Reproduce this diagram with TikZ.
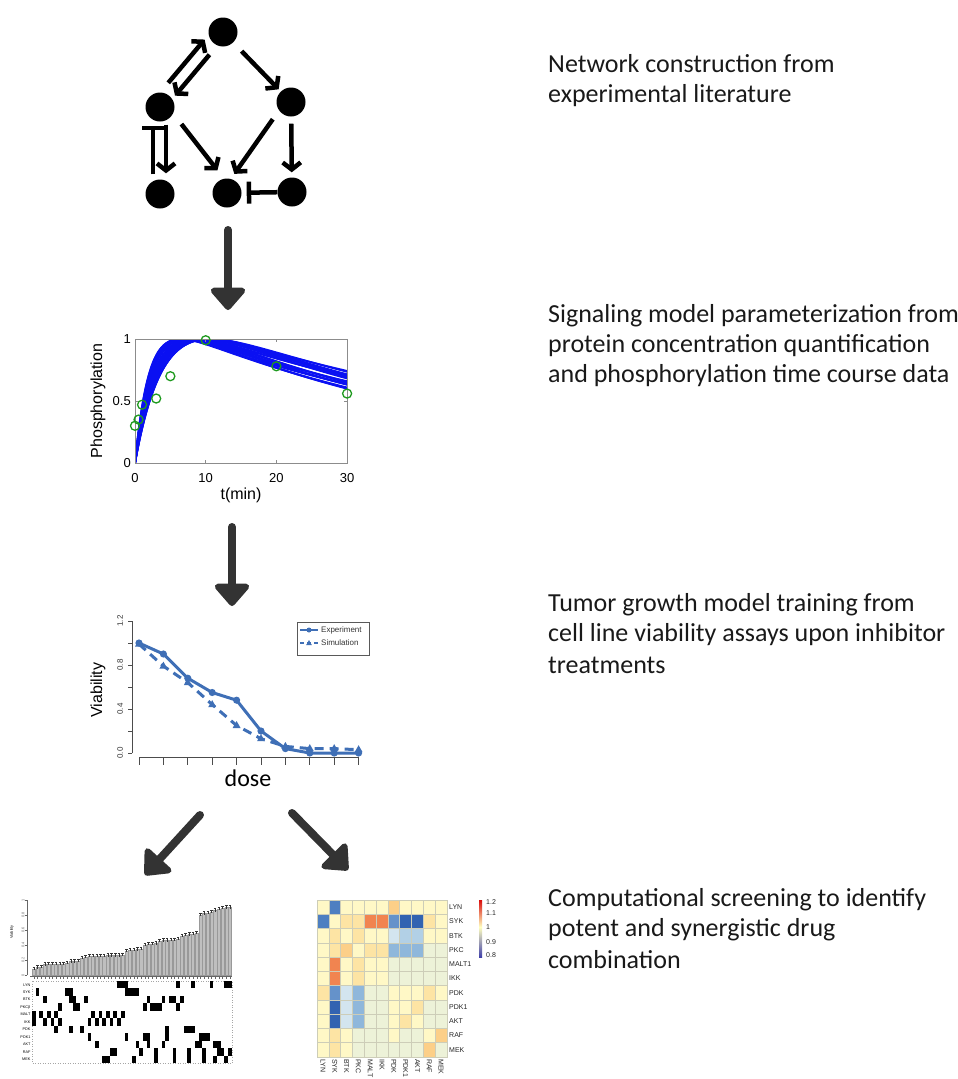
\documentclass[tikz,border=0pt]{standalone}
\usepackage{fontspec}
\setmainfont{Carlito}
\newfontfamily\plotfont{Liberation Sans}
\usetikzlibrary{arrows.meta}

\definecolor{flowgrey}{HTML}{333333}
\definecolor{fitblue}{HTML}{0A10F2}
\definecolor{datagreen}{HTML}{1F9A1F}
\definecolor{viablue}{HTML}{3F6FB6}
\definecolor{hY}{HTML}{FFF8C6}
\definecolor{hG}{HTML}{EDF2D8}
\definecolor{hO0}{HTML}{FDE4A4}
\definecolor{hO1}{HTML}{FCCF88}
\definecolor{hR}{HTML}{F18450}
\definecolor{hL1}{HTML}{D3E5EF}
\definecolor{hL2}{HTML}{B2D0E6}
\definecolor{hL3}{HTML}{8FB7DB}
\definecolor{hB1}{HTML}{6592CA}
\definecolor{hB2}{HTML}{4E7FC1}
\definecolor{hB3}{HTML}{3263B1}
\definecolor{hgrid}{HTML}{CDCDB8}

\begin{document}
\begin{tikzpicture}[x=1pt,y=-1pt,
		protein/.style={circle,fill=black,minimum size=29pt,inner sep=0pt},
		act/.style={line width=4.5pt,-{Straight Barb[length=7pt,width=18pt]}},
		inh/.style={line width=4.5pt,-{Bar[width=22pt]}},
		flow/.style={flowgrey,line width=8pt,line cap=round,-{Triangle[length=24pt,width=40pt,round]}},
		caption/.style={anchor=base west,inner sep=0pt,align=left,text=black!90,font=\fontsize{26}{30}\selectfont},
		axlabel/.style={font=\plotfont\fontsize{16}{18}\selectfont,inner sep=0pt},
		ticklabel/.style={font=\plotfont\fontsize{13}{15}\selectfont,inner sep=0pt},
		vtick/.style={font=\plotfont\fontsize{8}{9}\selectfont,inner sep=0pt,text=black!80},
		legendtext/.style={font=\plotfont\fontsize{8}{9}\selectfont,inner sep=0pt,anchor=west,text=black!80},
		tiny/.style={font=\plotfont\fontsize{3.8}{4}\selectfont,inner sep=0.4pt},
		hlabel/.style={font=\plotfont\fontsize{7}{8}\selectfont,inner sep=1pt,text=black!85}
	]
	\useasboundingbox (0,0) rectangle (958,1079);

	% network
	\node[protein] (top) at (223,32) {};
	\node[protein] (ml) at (160,107) {};
	\node[protein] (mr) at (291,102) {};
	\node[protein] (bl) at (160,194) {};
	\node[protein] (bm) at (227,193) {};
	\node[protein] (br) at (292,192) {};
	\draw[act,shorten <=9pt,shorten >=3pt,transform canvas={shift={(-7pt,6pt)}}] (ml) -- (top);
	\draw[act,shorten <=11pt,shorten >=4pt,transform canvas={shift={(3pt,-3pt)}}] (top) -- (ml);
	\draw[act,shorten <=12pt,shorten >=3pt] (top) -- (mr);
	\draw[act,shorten <=12pt,shorten >=9pt,transform canvas={shift={(5pt,4pt)}}] (ml) -- (bm);
	\draw[act,shorten <=10pt,shorten >=5pt,transform canvas={shift={(-4pt,3pt)}}] (mr) -- (bm);
	\draw[act,shorten <=7pt,shorten >=5pt] (mr) -- (br);
	\draw[act,shorten <=3pt,shorten >=6pt,transform canvas={shift={(6pt,0pt)}}] (ml) -- (bl);
	\draw[inh,shorten <=5pt,shorten >=4pt,transform canvas={shift={(-7pt,0pt)}}] (bl) -- (ml);
	\draw[inh,shorten >=5pt] (br) -- (bm);

	% flow arrows
	\coordinate (f1s) at (228,230);
	\coordinate (f1e) at (228,310);
	\coordinate (f2s) at (232,527);
	\coordinate (f2e) at (232,606);
	\coordinate (f3s) at (200,815);
	\coordinate (f3e) at (145,875);
	\coordinate (f4s) at (292,813);
	\coordinate (f4e) at (348,870);
	\draw[flow] (f1s) -- (f1e);
	\draw[flow] (f2s) -- (f2e);
	\draw[flow] (f3s) -- (f3e);
	\draw[flow] (f4s) -- (f4e);

	% phosphorylation fit
	\begin{scope}[shift={(135,463)},x=7.07pt,y=124pt]
		\begin{scope}
			\clip (0,-0.02) rectangle (30,1);
			\foreach \ka/\kb in {0.22/0.024,0.25/0.022,0.28/0.018,0.3/0.024,0.33/0.02,0.35/0.022,
					0.4/0.025,0.45/0.02,0.27/0.021,0.38/0.023,0.24/0.02,0.42/0.022,0.5/0.021,0.31/0.019,
					0.26/0.023,0.29/0.02,0.34/0.024,0.36/0.019,0.44/0.024,0.48/0.023,0.23/0.022}
				\draw[fitblue,line width=1.8pt] plot[domain=0:30,samples=90,smooth]
					(\x,{(1-exp(-\ka*\x))*exp(-\kb*\x)/((\ka/(\ka+\kb))*exp(-\kb*ln((\ka+\kb)/\kb)/\ka))});
		\end{scope}
		\draw[black!45,line width=0.8pt] (0,0) rectangle (30,1);
		\foreach \t in {0,10,20,30}
			\draw[black!45,line width=0.6pt] (\t,0) -- ++(0,3pt) (\t,1) -- ++(0,-3pt);
		\foreach \v in {0,0.5,1}
			\draw[black!45,line width=0.6pt] (0,\v) -- ++(3pt,0) (30,\v) -- ++(-3pt,0);
		\foreach \t/\v in {0/0.30,0.5/0.35,1/0.47,3/0.52,5/0.70,10/0.99,20/0.78,30/0.56}
			\draw[datagreen,line width=1.3pt] (\t,\v) circle[radius=4.5pt];
	\end{scope}
	\foreach \t in {0,10,20,30}
		\node[ticklabel] (xt\t) at ({135+7.07*\t},478) {\t};
	\foreach \v/\lab [count=\i] in {0/0,0.5/0.5,1/1}
		\node[ticklabel,anchor=east] (yt\i) at (131,{463-124*\v}) {\lab};
	\node[axlabel,rotate=90] (phos) at (98,401) {Phosphorylation};
	\node[axlabel] (tmin) at (241,495) {t(min)};

	% viability curves
	\draw[black!70,line width=0.8pt] (132,753) -- (132,621);
	\foreach \v in {0,0.2,0.4,0.6,0.8,1.0,1.2}
		\draw[black!70,line width=0.8pt] (132,{753-110*\v}) -- ++(-4,0);
	\foreach \v/\lab [count=\i] in {0/0.0,0.4/0.4,0.8/0.8,1.2/1.2}
		\node[vtick,rotate=90] (vy\i) at (120,{753-110*\v}) {\lab};
	\draw[black!70,line width=0.8pt] (139,757) -- (359,757);
	\foreach \i in {0,...,9}
		\draw[black!70,line width=0.8pt] ({139+24.4*\i},757) -- ++(0,8);
	\begin{scope}[shift={(139,753)},x=24.4pt,y=110pt]
		\draw[viablue,line width=3pt,line join=round] plot coordinates
			{(0,1.0) (1,0.90) (2,0.68) (3,0.55) (4,0.48) (5,0.20) (6,0.04) (7,0.0) (8,0.0) (9,0.0)};
		\draw[viablue,line width=3pt,dash pattern=on 9pt off 6pt] plot coordinates
			{(0,0.99) (1,0.79) (2,0.64) (3,0.44) (4,0.25) (5,0.13) (6,0.06) (7,0.04) (8,0.04) (9,0.03)};
		\foreach \v [count=\i from 0] in {1.0,0.90,0.68,0.55,0.48,0.20,0.04,0.0,0.0,0.0}
			\fill[viablue] (\i,\v) circle[radius=3.6pt];
		\foreach \v [count=\i from 0] in {0.99,0.79,0.64,0.44,0.25,0.13,0.06,0.04,0.04,0.03}
			\fill[viablue] (\i,\v) ++(0pt,4.5pt) -- ++(-4pt,-7pt) -- ++(8pt,0pt) -- cycle;
	\end{scope}
	\draw[black!65,line width=0.7pt] (297,622) rectangle (369,655);
	\draw[viablue,line width=1.5pt] (300,630) -- (318,630);
	\fill[viablue] (309,630) circle[radius=2.5pt];
	\draw[viablue,line width=1.5pt,dash pattern=on 4pt off 3pt] (300,643) -- (318,643);
	\fill[viablue] (309,643) ++(0pt,3pt) -- ++(-2.8pt,-5pt) -- ++(5.6pt,0pt) -- cycle;
	\node[legendtext] (lexp) at (321,630) {Experiment};
	\node[legendtext] (lsim) at (321,643) {Simulation};
	\node[axlabel,rotate=90] (via) at (98,690) {Viability};
	\node[font=\fontsize{24}{26}\selectfont,inner sep=0pt] (dose) at (248,778) {dose};

	% screening bars
	\draw[black!60,line width=0.4pt] (27,975) -- (27,900);
	\foreach \v/\lab [count=\i] in {0/0,0.2/0.2,0.4/0.4,0.6/0.6,0.8/0.8,1/1}
		\draw[black!60,line width=0.4pt] (27,{975-75*\v}) -- ++(-2,0)
			node[tiny,rotate=90,anchor=south] (bt\i) {\lab};
	\node[tiny,rotate=90] (bvia) at (12,932) {Viability};
	\foreach \h [count=\i from 0] in {0.08,0.10,0.11,0.14,0.15,0.15,0.15,0.15,0.15,0.16,
			0.18,0.18,0.19,0.23,0.24,0.25,0.25,0.25,0.25,0.25,0.26,0.26,0.26,0.26,0.27,
			0.32,0.33,0.33,0.34,0.35,0.40,0.41,0.41,0.42,0.45,0.46,0.46,0.47,0.47,0.48,
			0.52,0.53,0.54,0.55,0.56,0.80,0.82,0.83,0.84,0.86,0.88,0.89,0.90,0.90} {
		\filldraw[fill=black!25,draw=black!40,line width=0.3pt]
			({32.3+3.7*\i},975) rectangle ++(3.1,{-75*\h});
		\draw[black!80,line width=0.4pt] ({32.6+3.7*\i},{973-75*\h}) -- ++(2.5,0)
			({33.85+3.7*\i},{973-75*\h}) -- ++(0,3);
		\draw[black!60,line width=0.3pt] ({33.85+3.7*\i},976) -- ++(0,2.5);
	}
	\draw[black!60,line width=0.4pt] (30,976) -- (232,976);

	% drug combinations
	\draw[black!35,dotted,line width=0.5pt] (32,981) rectangle (232,1063);
	\foreach \r/\cols in {0/{23,24,25,39,43,48,52,53},1/{1,9,10,25,26,27,28},
			2/{3,10,11,14,31,35,37,38,40},3/{7,11,12,30,32,33,34,39},
			4/{0,2,4,6,16,18,20,22,24},5/{0,3,5,7,15,17,19,21,23},
			6/{6,10,13,36,41,42,43},7/{15,25,30,31,36,45,46,47},
			8/{17,28,31,35,44,45,49,50},9/{21,22,29,33,38,42,46,50,51,53},
			10/{19,20,27,33,38,42,46,49,52}}
		\foreach \c in \cols
			\fill ({32+3.7*\c},{981+7.45*\r}) rectangle ++(3.7,7.45);
	\foreach \lab [count=\r from 0] in {LYN,SYK,BTK,PKCβ,MALT,IKK,PDK,PDK1,AKT,RAF,MEK}
		\node[tiny,anchor=east] (dr\r) at (31,{981+7.45*(\r+0.5)}) {\lab};

	% synergy heatmap
	\begin{scope}[shift={(317,900)},x=11.82pt,y=-14.27pt]
		\foreach \row [count=\r from 0] in {
				{hY,hB2,hY,hY,hY,hY,hO1,hY,hY,hY,hY},
				{hB2,hY,hO0,hO0,hR,hR,hB1,hB3,hB3,hO0,hY},
				{hY,hO0,hY,hO0,hY,hY,hL1,hL2,hL2,hY,hY},
				{hY,hO0,hO1,hY,hO0,hO0,hL3,hL3,hL3,hG,hG},
				{hY,hR,hY,hO0,hY,hY,hG,hG,hG,hG,hG},
				{hY,hR,hY,hO0,hY,hY,hG,hG,hG,hG,hG},
				{hO0,hB1,hL1,hL3,hG,hG,hY,hY,hY,hO0,hY},
				{hY,hB3,hL1,hL3,hG,hG,hY,hY,hO0,hG,hG},
				{hY,hB3,hL1,hL3,hG,hG,hY,hO0,hY,hG,hG},
				{hY,hO0,hY,hG,hG,hG,hY,hG,hG,hY,hO1},
				{hY,hO0,hY,hG,hG,hG,hG,hG,hG,hO1,hG}}
			\foreach \cell [count=\c from 0] in \row
				\filldraw[fill=\cell,draw=hgrid,line width=0.6pt] (\c,\r) rectangle ++(1,1);
	\end{scope}
	\foreach \lab [count=\r from 0] in {LYN,SYK,BTK,PKC,MALT1,IKK,PDK,PDK1,AKT,RAF,MEK}
		\node[hlabel,anchor=west] (hr\r) at (448,{900+14.27*(\r+0.5)}) {\lab};
	\foreach \lab [count=\c from 0] in {LYN,SYK,BTK,PKC,MALT,IKK,PDK,PDK1,AKT,RAF,MEK}
		\node[hlabel,anchor=west,rotate=-90] (hc\c) at ({317+11.82*(\c+0.5)},1058) {\lab};
	\shade[top color=red!85!black!95,bottom color=yellow!25] (479,900) rectangle (482,927);
	\shade[top color=yellow!25,bottom color=blue!55!black!75] (479,927) rectangle (482,957);
	\foreach \lab/\y [count=\i] in {1.2/902,1.1/913,1/927,0.9/942,0.8/955}
		\node[hlabel,anchor=west] (cb\i) at (485,\y) {\lab};

	% captions
	\node[caption] (cap1) at (548,102) {Network construction from\\experimental literature};
	\node[caption] (cap2) at (548,382) {Signaling model parameterization from\\protein concentration quantification\\and phosphorylation time course data};
	\node[caption] (cap3) at (548,673) {Tumor growth model training from\\cell line viability assays upon inhibitor\\[2pt]treatments};
	\node[caption] (cap4) at (548,968) {Computational screening to identify\\potent and synergistic drug\\[2pt]combination};
\end{tikzpicture}
\end{document}
